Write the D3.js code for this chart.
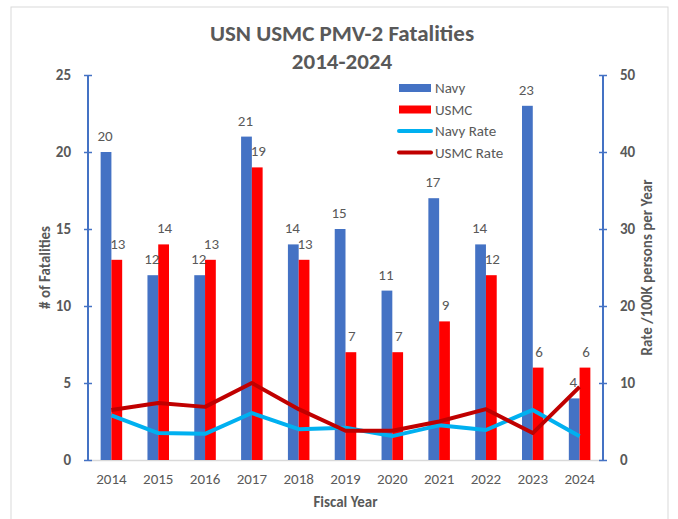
<!DOCTYPE html>
<html>
<head>
<meta charset="utf-8">
<script src="https://cdn.jsdelivr.net/npm/d3@7"></script>
<style>
  body { margin: 0; background: #fff; }
  text { font-family: Carlito, Calibri, "Liberation Sans", Arial, sans-serif; }
</style>
</head>
<body>
<div id="vis"></div>
<script>
var years = ['2014', '2015', '2016', '2017', '2018', '2019', '2020', '2021', '2022', '2023', '2024'];
var navy = [20, 12, 12, 21, 14, 15, 11, 17, 14, 23, 4];
var usmc = [13, 14, 13, 19, 13, 7, 7, 9, 12, 6, 6];
var navy_rate = [5.8, 3.5, 3.4, 6.1, 4.0, 4.2, 3.1, 4.5, 3.9, 6.5, 3.1];
var usmc_rate = [6.5, 7.4, 6.9, 10.0, 6.6, 3.8, 3.8, 5.0, 6.6, 3.5, 9.5];
var left_ticks = [0, 5, 10, 15, 20, 25];
var right_ticks = [0, 10, 20, 30, 40, 50];

var color_navy = '#4472C4';
var color_usmc = '#FF0000';
var color_navy_rate = '#00B0F0';
var color_usmc_rate = '#C00000';
var text_gray = '#595959';

var width = 678, height = 519;
var margin = {top: 75, bottom: 59, left: 88, right: 75};

var svg = d3.select('#vis')
    .append('svg')
    .attr('width', width)
    .attr('height', height);

// chart frame
svg.append('rect')
    .attr('x', 11).attr('y', 7)
    .attr('width', 657).attr('height', 520)
    .attr('fill', 'none')
    .attr('stroke', '#d9d9d9')
    .attr('stroke-width', 1);

var plot_w = width - margin.left - margin.right;
var plot_h = height - margin.top - margin.bottom;

var g = svg.append('g')
    .attr('transform', 'translate(' + margin.left + ',' + margin.top + ')');

var x_scale = d3.scaleBand().domain(years).range([0, plot_w]);
var y_scale = d3.scaleLinear().domain([0, 25]).range([plot_h, 0]);
var y2_scale = d3.scaleLinear().domain([0, 50]).range([plot_h, 0]);

var bar_w = x_scale.bandwidth() * 0.23;

// x axis
var x_axis = g.append('g')
    .attr('transform', 'translate(0,' + plot_h + ')')
    .call(d3.axisBottom(x_scale).tickSize(0).tickPadding(13));
x_axis.select('.domain').attr('stroke', '#d9d9d9').attr('stroke-width', 1.5);
x_axis.selectAll('text').attr('fill', text_gray).style('font-size', '15px');

// bars
g.selectAll('.bar-navy')
    .data(navy)
    .enter()
    .append('rect')
    .attr('class', 'bar-navy')
    .attr('x', function(d, i) { return x_scale(years[i]) + x_scale.bandwidth() / 2 - bar_w; })
    .attr('y', function(d) { return y_scale(d); })
    .attr('width', bar_w)
    .attr('height', function(d) { return plot_h - y_scale(d); })
    .attr('fill', color_navy);

g.selectAll('.bar-usmc')
    .data(usmc)
    .enter()
    .append('rect')
    .attr('class', 'bar-usmc')
    .attr('x', function(d, i) { return x_scale(years[i]) + x_scale.bandwidth() / 2; })
    .attr('y', function(d) { return y_scale(d); })
    .attr('width', bar_w)
    .attr('height', function(d) { return plot_h - y_scale(d); })
    .attr('fill', color_usmc);

// bar labels
g.selectAll('.lbl-navy')
    .data(navy)
    .enter()
    .append('text')
    .attr('x', function(d, i) { return x_scale(years[i]) + x_scale.bandwidth() / 2 - bar_w / 2 - 1; })
    .attr('y', function(d) { return y_scale(d) - 11; })
    .attr('text-anchor', 'middle')
    .attr('fill', text_gray)
    .style('font-size', '15px')
    .text(function(d) { return d; });

g.selectAll('.lbl-usmc')
    .data(usmc)
    .enter()
    .append('text')
    .attr('x', function(d, i) { return x_scale(years[i]) + x_scale.bandwidth() / 2 + bar_w / 2 + 1; })
    .attr('y', function(d) { return y_scale(d) - 11; })
    .attr('text-anchor', 'middle')
    .attr('fill', text_gray)
    .style('font-size', '15px')
    .text(function(d) { return d; });

// rate lines
var line = d3.line()
    .x(function(d, i) { return x_scale(years[i]) + x_scale.bandwidth() / 2; })
    .y(function(d) { return y2_scale(d); });

g.append('path')
    .datum(navy_rate)
    .attr('d', line)
    .attr('fill', 'none')
    .attr('stroke', color_navy_rate)
    .attr('stroke-width', 4)
    .attr('stroke-linejoin', 'round');

g.append('path')
    .datum(usmc_rate)
    .attr('d', line)
    .attr('fill', 'none')
    .attr('stroke', color_usmc_rate)
    .attr('stroke-width', 4)
    .attr('stroke-linejoin', 'round');

// left axis
var y_axis = g.append('g')
    .call(d3.axisLeft(y_scale).tickValues(left_ticks).tickSize(8).tickPadding(9));
y_axis.selectAll('.tick line').attr('stroke', color_navy).attr('stroke-width', 1.5).attr('transform', 'translate(4,0)');
y_axis.select('.domain').attr('stroke', color_navy).attr('stroke-width', 2).attr('d', 'M0,0V' + plot_h);
y_axis.selectAll('text').attr('fill', text_gray).style('font-size', '15px').style('font-weight', 'bold');

// right axis
var y2_axis = g.append('g')
    .attr('transform', 'translate(' + plot_w + ',0)')
    .call(d3.axisRight(y2_scale).tickValues(right_ticks).tickSize(8).tickPadding(9));
y2_axis.selectAll('.tick line').attr('stroke', color_navy).attr('stroke-width', 1.5).attr('transform', 'translate(-4,0)');
y2_axis.select('.domain').attr('stroke', color_navy).attr('stroke-width', 2).attr('d', 'M0,0V' + plot_h);
y2_axis.selectAll('text').attr('fill', text_gray).style('font-size', '15px').style('font-weight', 'bold');

// titles
svg.append('text')
    .attr('x', 342).attr('y', 41)
    .attr('text-anchor', 'middle')
    .attr('fill', text_gray)
    .style('font-size', '23px').style('font-weight', 'bold')
    .text('USN USMC PMV-2 Fatalities');
svg.append('text')
    .attr('x', 342).attr('y', 69)
    .attr('text-anchor', 'middle')
    .attr('fill', text_gray)
    .style('font-size', '23px').style('font-weight', 'bold')
    .text('2014-2024');

svg.append('text')
    .attr('x', margin.left + plot_w / 2).attr('y', 507)
    .attr('text-anchor', 'middle')
    .attr('fill', text_gray)
    .style('font-size', '15px').style('font-weight', 'bold')
    .text('Fiscal Year');

svg.append('text')
    .attr('transform', 'translate(50,' + (margin.top + plot_h / 2) + ') rotate(-90)')
    .attr('text-anchor', 'middle')
    .attr('fill', text_gray)
    .style('font-size', '15px').style('font-weight', 'bold')
    .text('# of Fatalities');

svg.append('text')
    .attr('transform', 'translate(652,' + (margin.top + plot_h / 2) + ') rotate(-90)')
    .attr('text-anchor', 'middle')
    .attr('fill', text_gray)
    .style('font-size', '15px').style('font-weight', 'bold')
    .text('Rate /100K persons per Year');

// legend
var legend_items = [
    {name: 'Navy', color: color_navy, kind: 'bar'},
    {name: 'USMC', color: color_usmc, kind: 'bar'},
    {name: 'Navy Rate', color: color_navy_rate, kind: 'line'},
    {name: 'USMC Rate', color: color_usmc_rate, kind: 'line'}
];

var legend = svg.append('g').attr('transform', 'translate(399,88)');
var rows = legend.selectAll('.leg')
    .data(legend_items)
    .enter()
    .append('g')
    .attr('transform', function(d, i) { return 'translate(0,' + (i * 21.5) + ')'; });

rows.filter(function(d) { return d.kind === 'bar'; })
    .append('rect')
    .attr('x', 0).attr('y', -4)
    .attr('width', 32).attr('height', 8)
    .attr('fill', function(d) { return d.color; });

rows.filter(function(d) { return d.kind === 'line'; })
    .append('line')
    .attr('x1', 0).attr('x2', 32)
    .attr('stroke', function(d) { return d.color; })
    .attr('stroke-width', 4)
    .attr('stroke-linecap', 'round');

rows.append('text')
    .attr('x', 36).attr('y', 5)
    .attr('fill', text_gray)
    .style('font-size', '15px')
    .text(function(d) { return d.name; });
</script>
</body>
</html>
